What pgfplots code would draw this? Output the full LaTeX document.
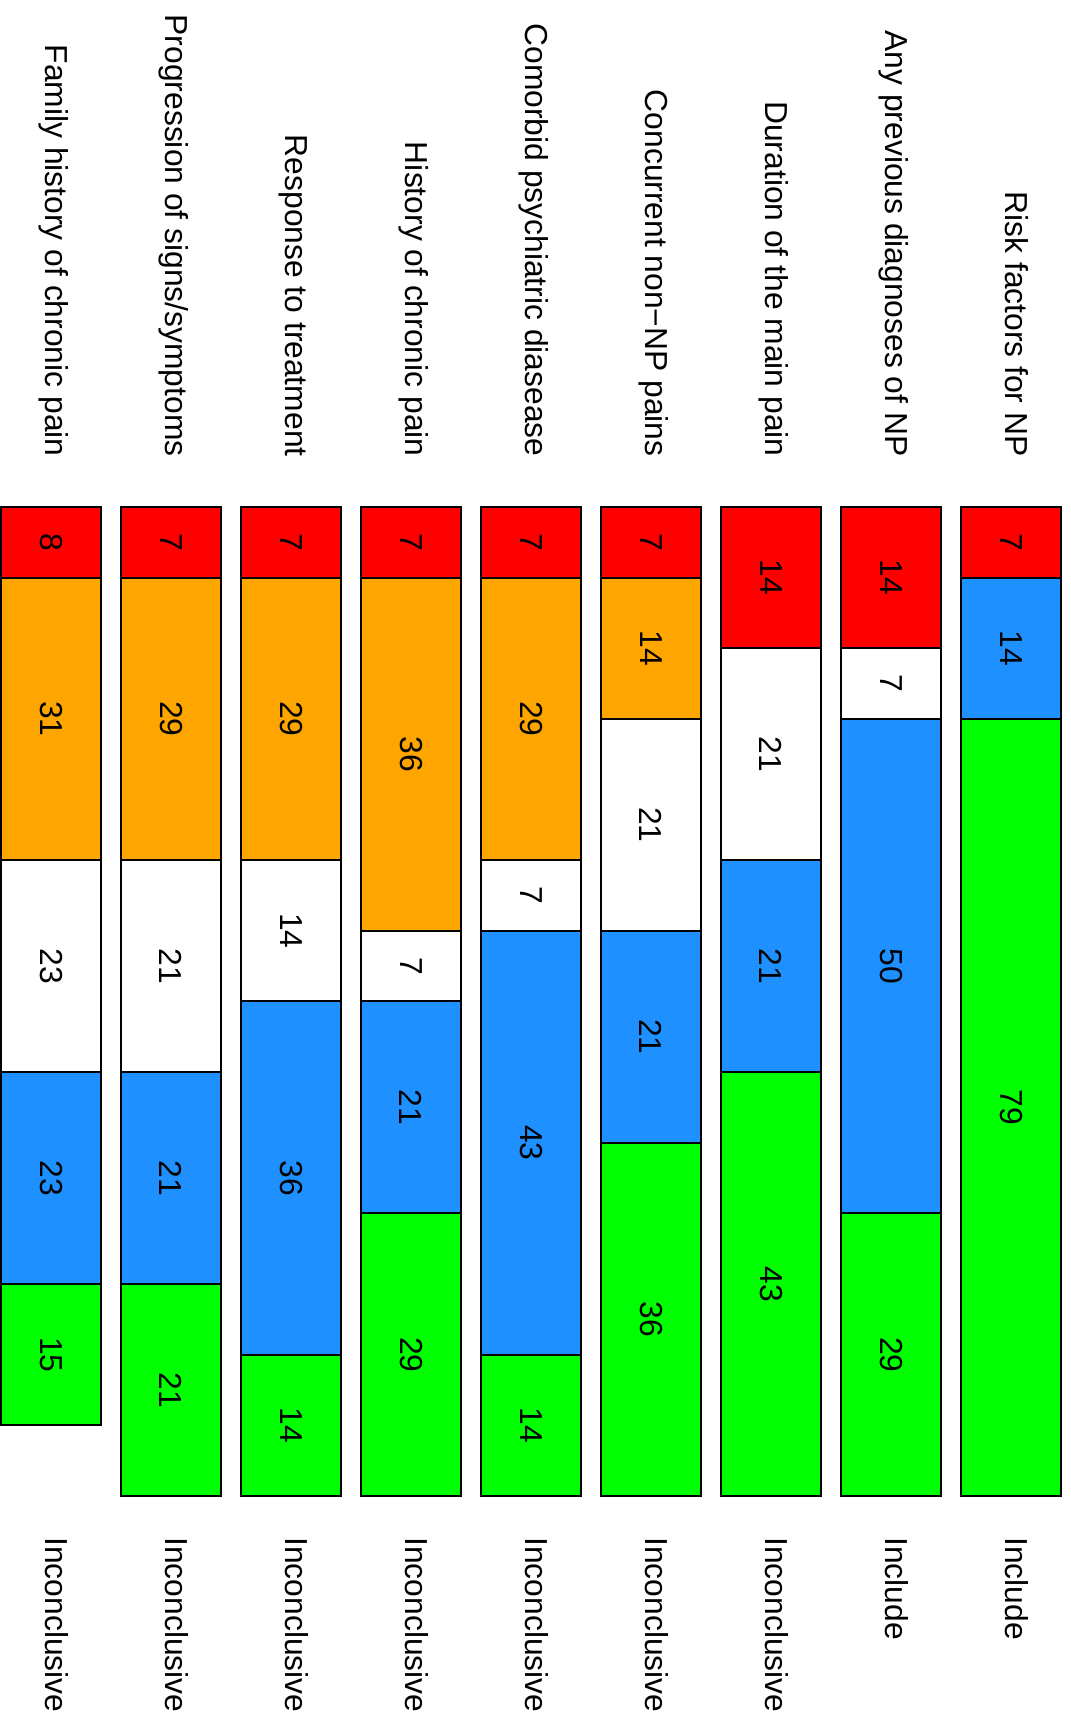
\documentclass[border=0pt]{standalone}
\usepackage{pgfplots}
\pgfplotsset{compat=1.18}
\usepackage{pgfplotstable}
\usepackage{fontspec}
\setmainfont{Liberation Sans}

\definecolor{rred}{HTML}{FF0000}
\definecolor{rorange}{HTML}{FFA500}
\definecolor{rblue}{HTML}{1E90FF}
\definecolor{rgreen}{HTML}{00FF00}
\newcommand\lbl{\fontsize{15.9}{19}\selectfont}

% n = number of answers (bar length), pct = printed label
% x: 0 = Family history ... 8 = Risk factors
\pgfplotstableread{
x n pct
0 1 8
1 1 7
2 1 7
3 1 7
4 1 7
5 1 7
6 2 14
7 2 14
8 1 7
}\tred
\pgfplotstableread{
x n pct
0 4 31
1 4 29
2 4 29
3 5 36
4 4 29
5 2 14
6 0 {}
7 0 {}
8 0 {}
}\torange
\pgfplotstableread{
x n pct
0 3 23
1 3 21
2 2 14
3 1 7
4 1 7
5 3 21
6 3 21
7 1 7
8 0 {}
}\twhite
\pgfplotstableread{
x n pct
0 3 23
1 3 21
2 5 36
3 3 21
4 6 43
5 3 21
6 3 21
7 7 50
8 2 14
}\tblue
\pgfplotstableread{
x n pct
0 2 15
1 3 21
2 2 14
3 4 29
4 2 14
5 5 36
6 6 43
7 4 29
8 11 79
}\tgreen

\begin{document}
\begin{tikzpicture}[
    lbltop/.style={anchor=mid east, rotate=-90, font=\lbl, inner sep=0pt},
    lblbot/.style={anchor=mid west, rotate=-90, font=\lbl, inner sep=0pt},
]
\begin{axis}[
    scale only axis,
    width=535.5pt, height=865pt,
    xmin=-0.425, xmax=8.5,
    ymin=-7.177, ymax=17.313,
    y dir=reverse,
    hide axis, clip=false,
    ybar stacked, bar width=50pt,
    every axis plot/.append style={draw=black, line width=1pt},
    point meta=explicit symbolic,
    nodes near coords={\pgfplotspointmeta},
    nodes near coords align={center},
    every node near coord/.append style={rotate=-90, font=\lbl, text=black},
]
\addplot[fill=rred] table[x=x, y=n, meta=pct] {\tred};
\addplot[fill=rorange] table[x=x, y=n, meta=pct] {\torange};
\addplot[fill=white] table[x=x, y=n, meta=pct] {\twhite};
\addplot[fill=rblue] table[x=x, y=n, meta=pct] {\tblue};
\addplot[fill=rgreen] table[x=x, y=n, meta=pct] {\tgreen};

% item names above the bars
\node[lbltop] at (axis cs:0,-0.708) {Family history of chronic pain};
\node[lbltop] at (axis cs:1,-0.708) {Progression of signs/symptoms};
\node[lbltop] at (axis cs:2,-0.708) {Response to treatment};
\node[lbltop] at (axis cs:3,-0.708) {History of chronic pain};
\node[lbltop] at (axis cs:4,-0.708) {Comorbid psychiatric diasease};
\node[lbltop] at (axis cs:5,-0.708) {Concurrent non−NP pains};
\node[lbltop] at (axis cs:6,-0.708) {Duration of the main pain};
\node[lbltop] at (axis cs:7,-0.708) {Any previous diagnoses of NP};
\node[lbltop] at (axis cs:8,-0.708) {Risk factors for NP};
% outcome below the bars
\node[lblbot] at (axis cs:0,14.58) {Inconclusive};
\node[lblbot] at (axis cs:1,14.58) {Inconclusive};
\node[lblbot] at (axis cs:2,14.58) {Inconclusive};
\node[lblbot] at (axis cs:3,14.58) {Inconclusive};
\node[lblbot] at (axis cs:4,14.58) {Inconclusive};
\node[lblbot] at (axis cs:5,14.58) {Inconclusive};
\node[lblbot] at (axis cs:6,14.58) {Inconclusive};
\node[lblbot] at (axis cs:7,14.58) {Include};
\node[lblbot] at (axis cs:8,14.58) {Include};
\end{axis}
\pgfresetboundingbox
\path[use as bounding box] (current axis.south west) rectangle (current axis.north east);
\end{tikzpicture}
\end{document}
